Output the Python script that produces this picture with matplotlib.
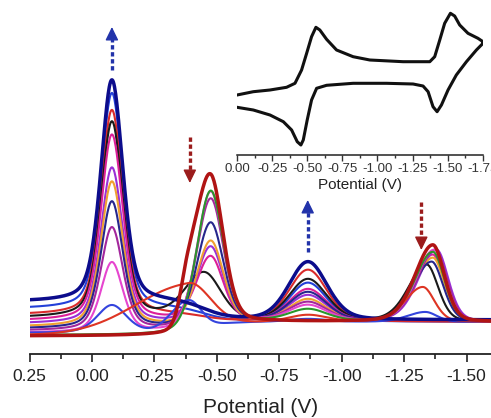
import numpy as np
import matplotlib
matplotlib.use('Agg')
import matplotlib.pyplot as plt
from matplotlib.ticker import MultipleLocator, FuncFormatter

plt.rcParams['font.family'] = ['Liberation Sans', 'DejaVu Sans']
plt.rcParams['axes.unicode_minus'] = False

# ---------------- DPV titration series (current, arbitrary units) ----------------
curve_colors = ['#0c0c8c', '#2340d8', '#d92b2b', '#1a1a1a', '#dc1f98', '#9a2fd6',
                '#f0a030', '#26268c', '#a3279c', '#e645cf', '#2a962a', '#3444dd',
                '#de3524', '#b01414']
curve_widths = [2.5, 1.5, 1.5, 1.5, 1.5, 1.5, 1.5, 1.5, 1.5, 1.5, 1.5, 1.5, 1.5, 2.5]
base_left = [52, 45, 39, 36, 33, 30, 27, 25, 23, 21, 19, 21, 19, 18]
base_right = [34, 32, 32, 32, 32, 32, 32, 32, 32, 32, 32, 32, 32, 32]
peak1_height = [222, 216, 205, 196, 186, 156, 145, 127, 103, 70, 0, 28, 0, 0]
peak2_height = [0, 0, 0, 46, 64, 75, 82, 101, 126, 134, 136, 0, 0, 149]
peak3_height = [58, 39, 52, 42, 32, 26, 22, 29, 19, 16, 12, 3, 7, 0]
peak4_height = [0, 0, 0, 57, 67, 72, 64, 60, 72, 72, 70, 10, 35, 77]
shoulder_height = [0, 0, 0, 0, 0, 0, 0, 0, 0, 0, 0, 30, 49, 40]
peak2_center = [-0.475, -0.475, -0.475, -0.45, -0.475, -0.475, -0.475, -0.475,
                -0.475, -0.475, -0.475, -0.475, -0.475, -0.475]
peak4_center = [-1.365, -1.365, -1.365, -1.34, -1.365, -1.38, -1.365, -1.36,
                -1.375, -1.37, -1.365, -1.335, -1.325, -1.365]
peak1_center, peak3_center, shoulder_center = -0.08, -0.865, -0.385
shoulder_hw_left = [0.08, 0.08, 0.08, 0.08, 0.08, 0.08, 0.08, 0.08, 0.08, 0.08, 0.08, 0.08, 0.25, 0.035]
shoulder_hw_right = [0.06, 0.06, 0.06, 0.06, 0.06, 0.06, 0.06, 0.06, 0.06, 0.06, 0.06, 0.06, 0.10, 0.05]

# ---------------- Inset cyclic voltammogram ----------------
cv_potential = [0.00, -0.116, -0.235, -0.353, -0.413, -0.46, -0.496, -0.531, -0.562, -0.59,
                -0.638, -0.709, -0.827, -0.946, -1.183, -1.373, -1.408, -1.444, -1.479, -1.52,
                -1.55, -1.586, -1.645, -1.716, -1.752,
                -1.752, -1.705, -1.634, -1.562, -1.503, -1.456, -1.425, -1.396, -1.361, -1.325,
                -1.254, -1.065, -0.827, -0.638, -0.567, -0.531, -0.5, -0.472, -0.455, -0.429,
                -0.389, -0.33, -0.235, -0.116, 0.00]
cv_current = [60, 63.3, 65, 67.7, 71.7, 85, 101.7, 118.3, 127.7, 125,
              115.7, 105, 98.3, 95, 93.3, 93.3, 98.3, 115, 131.7, 141.7,
              139, 130, 121.7, 116.7, 113.3,
              111.7, 105, 93.3, 80, 65, 50, 43.3, 48.3, 63.3, 69,
              71, 71.7, 71.7, 69.7, 66.7, 55, 35, 15, 10, 13.3,
              25, 33.3, 40, 45, 47.7]

main_ticks = [0.25, 0.00, -0.25, -0.50, -0.75, -1.00, -1.25, -1.50]
inset_ticks = [0.00, -0.25, -0.50, -0.75, -1.00, -1.25, -1.50, -1.75]


def peak(x, c, hwl, hwr, eta=0.25):
    hw = np.where(x > c, hwl, hwr)
    u = (x - c) / hw
    return (1 - eta) * np.exp(-np.log(2) * u ** 2) + eta / (1 + u ** 2)


E = np.linspace(0.25, -1.60, 800)

fig = plt.figure(figsize=(4.91, 4.18), dpi=100)
ax = fig.add_axes([29.5 / 491, 64 / 418, 461.5 / 491, 354 / 418])

order = list(range(1, 13)) + [0, 13]
for i in order:
    S = 1.0 / (1.0 + np.exp((E + 0.45) / 0.05))
    y = base_left[i] + (base_right[i] - base_left[i]) * S
    hw1 = 0.07 if i == 11 else 0.052
    y = y + peak1_height[i] * peak(E, peak1_center, hw1, hw1, eta=0.4)
    hw2l, hw2r = (0.09, 0.08) if i == 3 else (0.065, 0.06)
    y = y + peak2_height[i] * peak(E, peak2_center[i], hw2l, hw2r)
    y = y + peak3_height[i] * peak(E, peak3_center, 0.09, 0.09)
    y = y + peak4_height[i] * peak(E, peak4_center[i], 0.085, 0.055)
    y = y + shoulder_height[i] * peak(E, shoulder_center, shoulder_hw_left[i], shoulder_hw_right[i], eta=0.0)
    ax.plot(E, y, color=curve_colors[i], lw=curve_widths[i], solid_capstyle='round')

ax.set_xlim(0.25, -1.598)
ax.set_ylim(0, 354)
for s in ['top', 'right', 'left']:
    ax.spines[s].set_visible(False)
ax.spines['bottom'].set_linewidth(1.3)
ax.spines['bottom'].set_color('#222222')
ax.set_yticks([])
ax.set_xticks(main_ticks)
ax.xaxis.set_minor_locator(MultipleLocator(0.125))
ax.xaxis.set_major_formatter(FuncFormatter(lambda v, p: f"{v:.2f}" if abs(v) > 1e-9 else "0.00"))
ax.tick_params(axis='x', which='major', length=6, width=1.2, pad=4.5, labelsize=12.5,
               colors='#222222', direction='out')
ax.tick_params(axis='x', which='minor', length=3.5, width=1.2, colors='#222222', direction='out')
ax.set_xlabel('Potential (V)', fontsize=15, color='#222222', labelpad=10.5)


def dashed_arrow(x, y0, ytip, color):
    head = 8 if ytip > y0 else -8
    ax.plot([x, x], [y0, ytip - head], color=color, lw=2.4, linestyle=(0, (1.3, 0.8)),
            solid_capstyle='butt', dash_capstyle='butt')
    ax.annotate('', xy=(x, ytip), xytext=(x, ytip - head),
                arrowprops=dict(arrowstyle='-|>,head_length=0.45,head_width=0.22',
                                color=color, lw=1, shrinkA=0, shrinkB=0, mutation_scale=18))


dashed_arrow(-0.08, 284, 327, '#2233aa')
dashed_arrow(-0.392, 217, 171, '#9b1c1c')
dashed_arrow(-0.864, 102, 154, '#2233aa')
dashed_arrow(-1.319, 152, 104, '#9b1c1c')

# inset
ins = fig.add_axes([237 / 491, 263 / 418, 246 / 491, 147 / 418])
ins.patch.set_alpha(0)
ins.plot(cv_potential, cv_current, color='#111111', lw=2.2, solid_joinstyle='round')
ins.set_xlim(0.0, -1.752)
ins.set_ylim(0, 147)
for s in ['top', 'right', 'left']:
    ins.spines[s].set_visible(False)
ins.spines['bottom'].set_linewidth(1.1)
ins.spines['bottom'].set_color('#222222')
ins.set_yticks([])
ins.set_xticks(inset_ticks)
ins.xaxis.set_minor_locator(MultipleLocator(0.125))
ins.xaxis.set_major_formatter(FuncFormatter(lambda v, p: f"{v:.2f}" if abs(v) > 1e-9 else "0.00"))
ins.tick_params(axis='x', which='major', length=4, width=1.0, pad=2, labelsize=9.5,
                colors='#333333', direction='out')
ins.tick_params(axis='x', which='minor', length=2.5, width=1.0, colors='#333333', direction='out')
ins.set_xlabel('Potential (V)', fontsize=11, color='#222222', labelpad=2)

fig.savefig('out.png', dpi=100)
